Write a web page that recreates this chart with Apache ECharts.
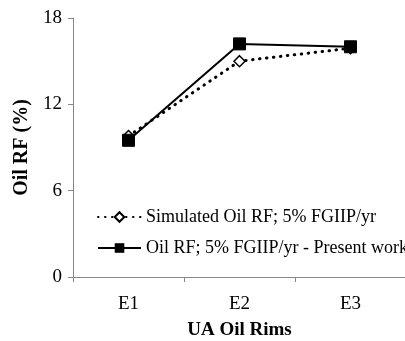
<!DOCTYPE html>
<html><head><meta charset="utf-8">
<script src="https://cdn.jsdelivr.net/npm/echarts@6/dist/echarts.min.js"></script>
<style>html,body{margin:0;padding:0;background:#fff}#c{width:405px;height:341px}</style>
</head><body><div id="c"></div>
<script>
const categories = ['E1', 'E2', 'E3'];
const simulated = [9.8, 15.0, 15.9];
const presentWork = [9.5, 16.2, 16.0];
const yTicks = [0, 6, 12, 18];
const seriesNames = ['Simulated Oil RF; 5% FGIIP/yr', 'Oil RF; 5% FGIIP/yr - Present work'];

const font = '"Liberation Serif", "Times New Roman", serif';
const chart = echarts.init(document.getElementById('c'));
chart.setOption({
  animation: false,
  backgroundColor: '#fff',
  textStyle: { fontFamily: font },
  grid: { left: 73, top: 18, width: 333, height: 259, containLabel: false, outerBoundsMode: 'none' },
  legend: {
    orient: 'vertical', left: 92, top: 203, itemGap: 13, itemWidth: 43, itemHeight: 12,
    textStyle: { fontFamily: font, fontSize: 18, color: '#000' },
    data: seriesNames
  },
  xAxis: {
    type: 'category', data: categories, boundaryGap: true,
    axisLine: { lineStyle: { color: '#888', width: 1 } },
    axisTick: { show: true, alignWithLabel: false, length: 5, lineStyle: { color: '#888' } },
    axisLabel: { fontFamily: font, fontSize: 19, color: '#000', margin: 18 },
    name: 'UA Oil Rims', nameLocation: 'middle', nameGap: 44,
    nameTextStyle: { fontFamily: font, fontSize: 19, fontWeight: 'bold', color: '#000' }
  },
  yAxis: {
    type: 'value', min: 0, max: 18, interval: 6,
    axisLine: { show: true, lineStyle: { color: '#888', width: 1 } },
    axisTick: { show: true, length: 5, lineStyle: { color: '#888' } },
    splitLine: { show: false },
    axisLabel: { fontFamily: font, fontSize: 19, color: '#000', margin: 11,
      formatter: v => yTicks.includes(v) ? String(v) : '' },
    name: 'Oil RF (%)', nameLocation: 'middle', nameGap: 39,
    nameTextStyle: { fontFamily: font, fontSize: 20, fontWeight: 'bold', color: '#000' }
  },
  series: [
    {
      name: seriesNames[0], type: 'line', data: simulated,
      symbol: 'diamond', symbolSize: 11,
      itemStyle: { color: '#fff', borderColor: '#000', borderWidth: 1.5 },
      lineStyle: { color: '#000', width: 3, type: [0.5, 6.5], cap: 'round' },
      z: 2
    },
    {
      name: seriesNames[1], type: 'line', data: presentWork,
      symbol: 'rect', symbolSize: 12,
      itemStyle: { color: '#000', borderColor: '#000' },
      lineStyle: { color: '#000', width: 2 },
      z: 3
    }
  ]
});
</script></body></html>
